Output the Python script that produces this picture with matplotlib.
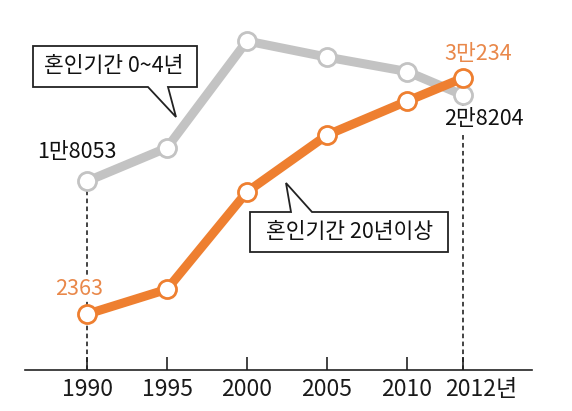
import matplotlib
matplotlib.use("Agg")
import matplotlib.pyplot as plt
from matplotlib.patches import Polygon
from matplotlib.transforms import Affine2D

plt.rcParams['font.family'] = ['Noto Sans CJK KR', 'DejaVu Sans']

years = ["1990", "1995", "2000", "2005", "2010", "2012년"]
short_marriage = [18053, 22000, 34600, 32700, 31000, 28204]   # 혼인기간 0~4년
long_marriage = [2363, 5300, 16800, 23500, 27500, 30234]      # 혼인기간 20년이상

# 2012 sits closer to 2010 than the 5-year steps
xpos = [0, 1, 2, 3, 4, 4.7]

GREY = "#c3c3c3"
ORANGE = "#ee7f30"
ORANGE_TXT = "#e9884a"

fig = plt.figure(figsize=(5.72, 4.11), dpi=100)
ax = fig.add_axes([25/572, 41/411, 507/572, 370/411])
ax.set_xlim(-0.775, 5.5625)
ax.set_ylim(-4222, 39438)

for s in ["top", "left", "right"]:
    ax.spines[s].set_visible(False)
ax.spines["bottom"].set_linewidth(1.2)
ax.spines["bottom"].set_color("#222222")
ax.set_yticks([])
ax.set_xticks(xpos)
ax.set_xticklabels([])
ax.tick_params(axis="x", direction="in", length=9.5, width=1.2, color="#222222")

# tick labels
for i, (x, lab) in enumerate(zip(xpos, years)):
    dx = 18 if i == len(years) - 1 else 0
    ax.annotate(lab, (x, ax.get_ylim()[0]), xytext=(dx, -19), textcoords="offset pixels",
                ha="center", va="center", fontsize=16.5, color="#1a1a1a",
                annotation_clip=False)

# dashed guide lines
ax.plot([xpos[0], xpos[0]], [ax.get_ylim()[0], short_marriage[0]], ls=(0, (3, 2.2)),
        color="#111111", lw=1.1, zorder=1)
ax.plot([xpos[-1], xpos[-1]], [ax.get_ylim()[0], long_marriage[-1]], ls=(0, (3, 2.2)),
        color="#111111", lw=1.1, zorder=1)

ax.plot(xpos, short_marriage, color=GREY, lw=6.5, marker="o", ms=13,
        mfc="white", mec=GREY, mew=2, zorder=3, solid_capstyle="round")
ax.plot(xpos, long_marriage, color=ORANGE, lw=6.5, marker="o", ms=13,
        mfc="white", mec=ORANGE, mew=2, zorder=4, solid_capstyle="round")

# value labels
ax.annotate("1만8053", (xpos[0], short_marriage[0]), xytext=(-10, 29), textcoords="offset pixels",
            ha="center", va="center", fontsize=15.5, color="#111111")
ax.annotate("2363", (xpos[0], long_marriage[0]), xytext=(-8, 25), textcoords="offset pixels",
            ha="center", va="center", fontsize=15.5, color=ORANGE_TXT, zorder=5,
            bbox=dict(boxstyle="square,pad=0.05", fc="white", ec="none"))
ax.annotate("3만234", (xpos[-1], long_marriage[-1]), xytext=(15, 24), textcoords="offset pixels",
            ha="center", va="center", fontsize=15.5, color=ORANGE_TXT)
ax.annotate("2만8204", (xpos[-1], short_marriage[-1]), xytext=(21, -24), textcoords="offset pixels",
            ha="center", va="center", fontsize=15.5, color="#111111", zorder=5,
            bbox=dict(boxstyle="square,pad=0.1", fc="white", ec="none"))

# speech bubbles (pixel coordinates, y from top)
flip = Affine2D().scale(1, -1).translate(0, 411)


def bubble(points, text, cx, cy):
    poly = Polygon(points, closed=True, fc="white", ec="#222222", lw=1.3,
                   transform=flip, zorder=6)
    fig.add_artist(poly)
    fig.text(cx / 572, 1 - cy / 411, text, ha="center", va="center",
             fontsize=15.5, color="#111111", zorder=7)


bubble([(33, 46), (197, 46), (197, 87), (168, 87), (176, 117), (148, 87), (33, 87)],
       "혼인기간 0~4년", 114, 66)
bubble([(250, 212), (291, 212), (286, 183), (312, 212), (448, 212), (448, 252), (250, 252)],
       "혼인기간 20년이상", 349, 232)

fig.savefig("out.png", dpi=100)
